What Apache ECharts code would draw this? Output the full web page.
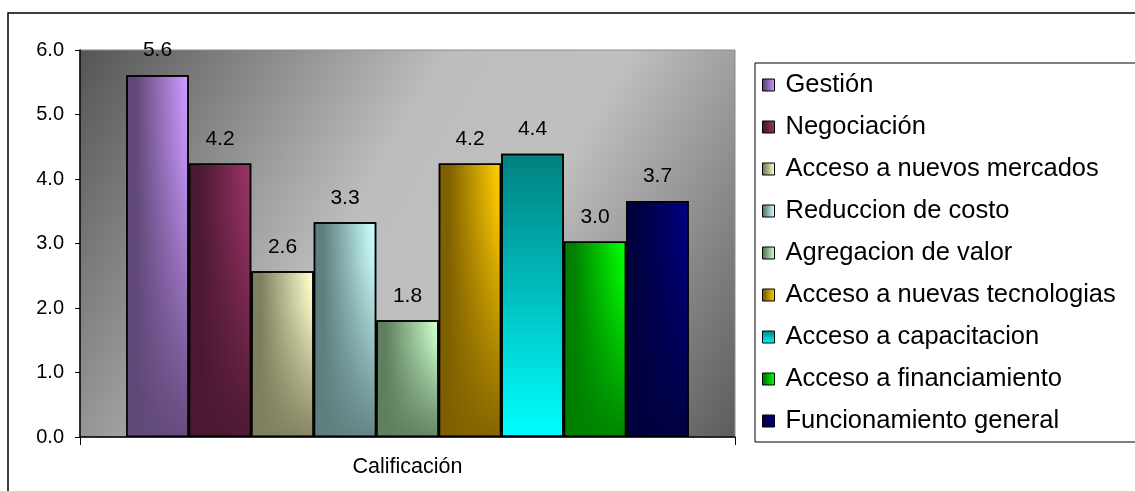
<!DOCTYPE html>
<html>
<head>
<meta charset="utf-8">
<script src="https://cdn.jsdelivr.net/npm/echarts@6/dist/echarts.min.js"></script>
<style>
html,body{margin:0;padding:0;background:#fff;}
#chart{width:1135px;height:491px;}
</style>
</head>
<body>
<div id="chart"></div>
<script>
var categories = ['Calificación'];
var seriesNames = ['Gestión','Negociación','Acceso a nuevos mercados','Reduccion de costo','Agregacion de valor','Acceso a nuevas tecnologias','Acceso a capacitacion','Acceso a financiamiento','Funcionamiento general'];
var seriesValues = [5.61, 4.24, 2.57, 3.33, 1.81, 4.24, 4.39, 3.03, 3.66];
var yTickLabels = ['0.0','1.0','2.0','3.0','4.0','5.0','6.0'];
var darkColors  = ['#604878','#4a1830','#7f7f5f','#5f7f7f','#5f7f5f','#7f6000','#008080','#007f00','#00003f'];
var lightColors = ['#cc99ff','#993366','#ffffcc','#ccffff','#ccffcc','#ffcc00','#00ffff','#00ff00','#000080'];
var verticalFill = [false,false,false,false,false,false,true,false,false];

var FONT = '"Liberation Sans", Arial, sans-serif';
var chart = echarts.init(document.getElementById('chart'));

function hexA(hex, a){
  var r=parseInt(hex.substr(1,2),16), g=parseInt(hex.substr(3,2),16), b=parseInt(hex.substr(5,2),16);
  return 'rgba('+r+','+g+','+b+','+a+')';
}

var series = [];
seriesNames.forEach(function(name, i){
  var fill = verticalFill[i]
    ? new echarts.graphic.LinearGradient(0,0,0,1,[{offset:0,color:darkColors[i]},{offset:1,color:lightColors[i]}])
    : new echarts.graphic.LinearGradient(0,0,1,0,[{offset:0,color:darkColors[i]},{offset:0.15,color:darkColors[i]},{offset:0.95,color:lightColors[i]},{offset:1,color:lightColors[i]}]);
  series.push({
    name: name,
    type: 'bar',
    xAxisIndex: 0,
    barWidth: 62.5,
    barGap: '0%',
    data: [seriesValues[i]],
    itemStyle: { color: fill, borderColor: '#000', borderWidth: 1.5 },
    label: {
      show: true, position: 'top', distance: 14,
      color: '#000', fontFamily: FONT, fontSize: 21,
      formatter: function(p){ return p.value.toFixed(1); }
    },
    z: 2
  });
});
seriesNames.forEach(function(name, i){
  var ov = verticalFill[i]
    ? 'rgba(0,0,0,0)'
    : new echarts.graphic.LinearGradient(0,0,0,1,[{offset:0,color:hexA(darkColors[i],0)},{offset:0.2,color:hexA(darkColors[i],0.1)},{offset:1,color:hexA(darkColors[i],0.95)}]);
  series.push({
    name: name + ' ',
    type: 'bar',
    xAxisIndex: 1,
    barWidth: 62.5,
    barGap: '0%',
    silent: true,
    data: [seriesValues[i]],
    itemStyle: { color: ov, borderColor: '#000', borderWidth: 1.5 },
    z: 3
  });
});

var option = {
  animation: false,
  backgroundColor: '#fff',
  graphic: [{
    type: 'rect', silent: true, z: -1,
    shape: { x: 8, y: 13, width: 1300, height: 600 },
    style: { fill: 'none', stroke: '#000', lineWidth: 1.5 }
  }],
  grid: {
    left: 80, right: 400, top: 50, bottom: 54,
    show: true,
    borderColor: '#8a8a8a', borderWidth: 1,
    backgroundColor: new echarts.graphic.LinearGradient(0,0,1,1,[
      {offset:0,color:'#555555'},{offset:0.42,color:'#bdbdbd'},{offset:0.62,color:'#c0c0c0'},{offset:1,color:'#5c5c5c'}
    ])
  },
  legend: {
    orient: 'vertical',
    left: 755, top: 63,
    data: seriesNames,
    backgroundColor: '#fff',
    borderColor: '#000', borderWidth: 1,
    padding: [9, 60, 8, 7],
    itemGap: 16,
    itemWidth: 12, itemHeight: 12,
    icon: 'rect',
    itemStyle: { borderColor: '#000', borderWidth: 1 },
    textStyle: { color: '#000', fontFamily: FONT, fontSize: 25.5, lineHeight: 24, padding: [0,0,0,6] },
    selectedMode: false
  },
  xAxis: [{
    type: 'category', data: categories,
    axisLine: { lineStyle: { color: '#000', width: 1.5 } },
    axisTick: { show: true, length: 8, lineStyle: { color: '#000' } },
    axisLabel: { color: '#000', fontFamily: FONT, fontSize: 21.5, margin: 19 }
  },{
    type: 'category', data: categories, show: false, position: 'bottom'
  }],
  yAxis: {
    type: 'value', min: 0, max: 6, interval: 1,
    axisLine: { show: true, lineStyle: { color: '#000', width: 1.5 } },
    axisTick: { show: true, length: 5, lineStyle: { color: '#000' } },
    splitLine: { show: false },
    axisLabel: { color: '#000', fontFamily: FONT, fontSize: 20, margin: 16,
      formatter: function(v){ return yTickLabels[Math.round(v)]; } }
  },
  series: series
};
chart.setOption(option);
</script>
</body>
</html>
